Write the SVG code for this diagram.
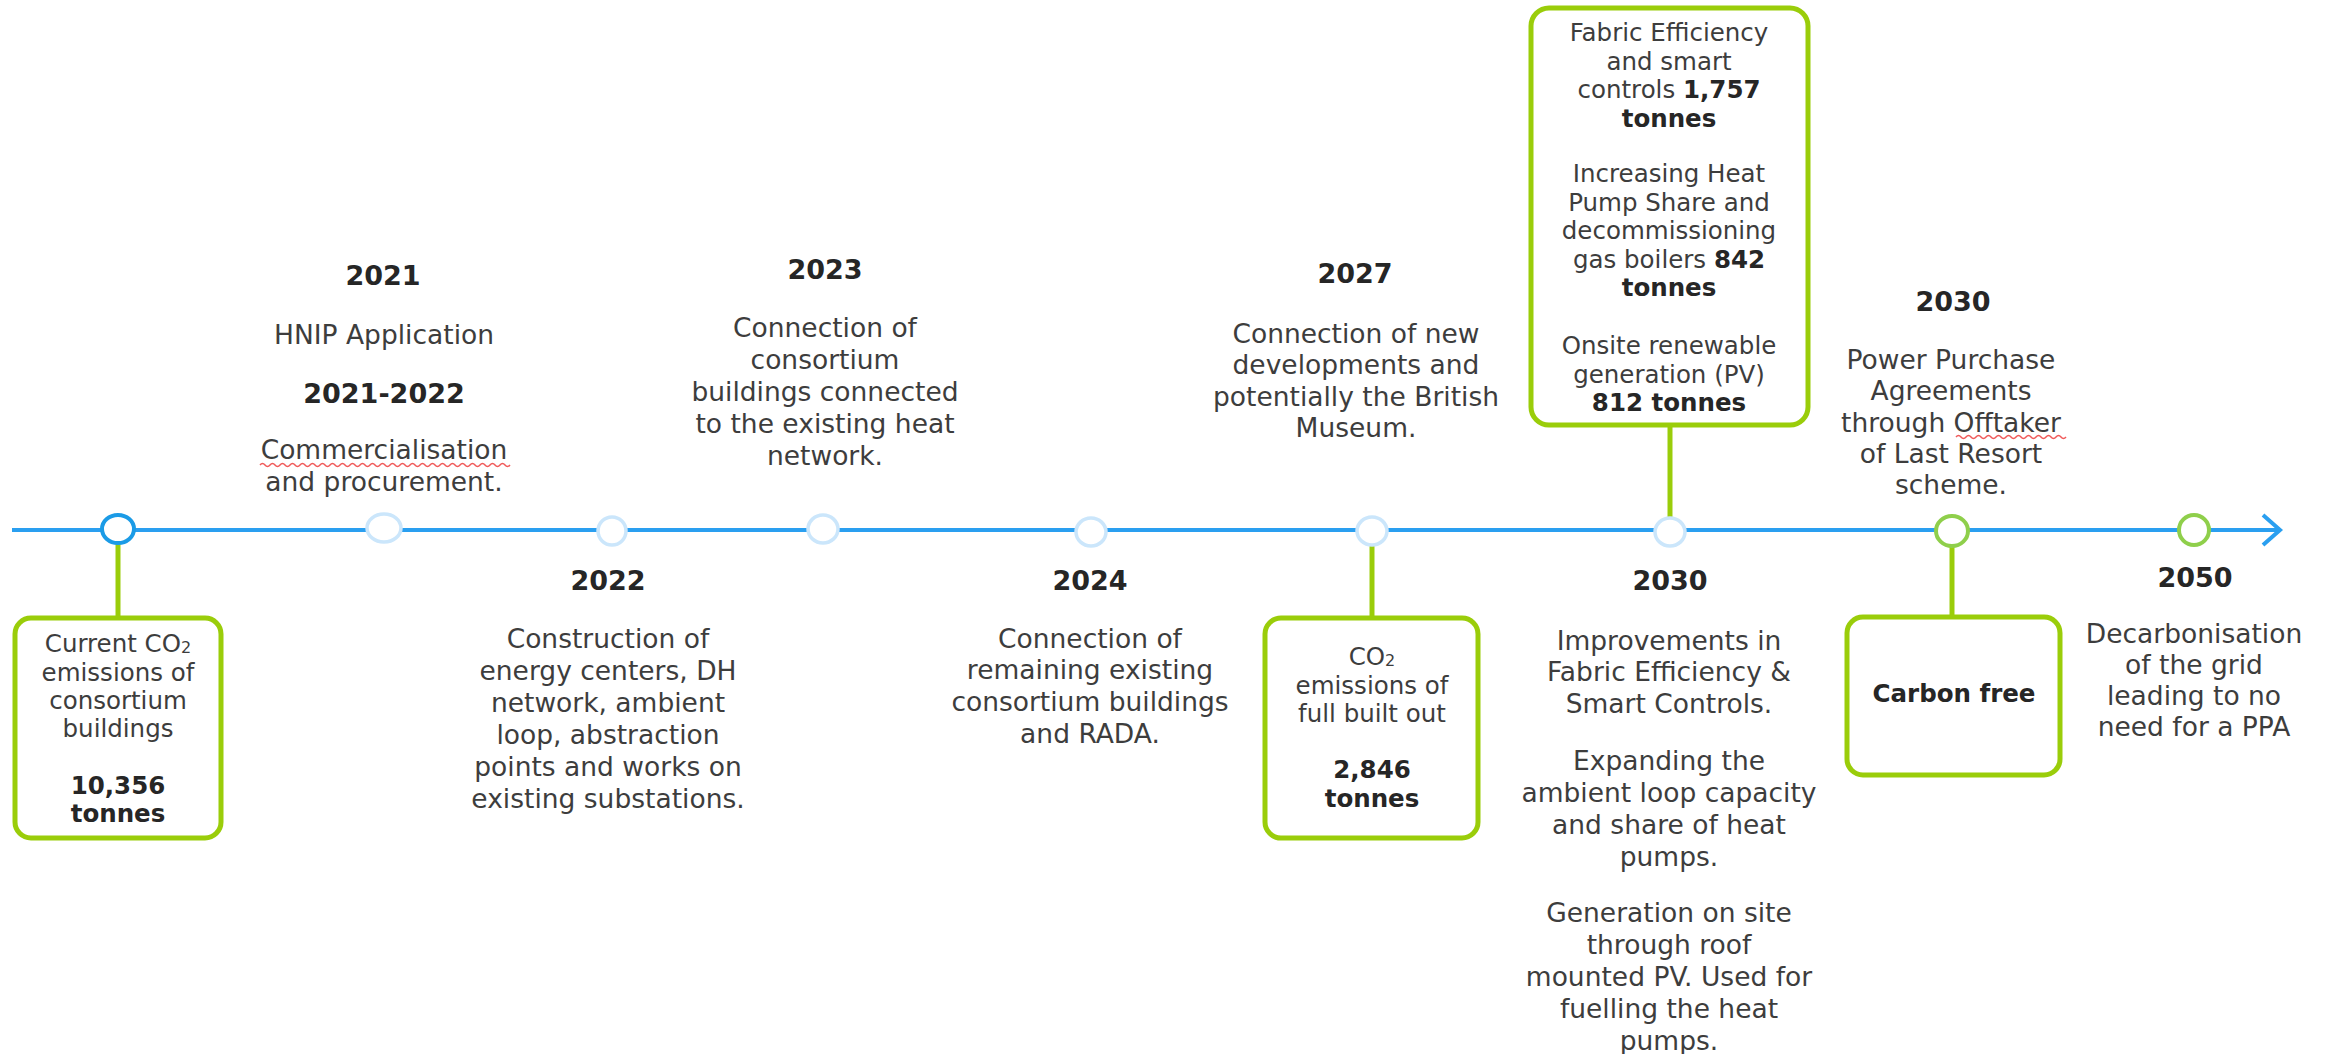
<svg xmlns="http://www.w3.org/2000/svg" width="2333" height="1054" viewBox="0 0 2333 1054">
<defs>
<style>
text{font-family:"DejaVu Sans",Verdana,sans-serif;fill:#3d3d3d;text-anchor:middle}
.t{font-size:26.5px}
.y{font-size:27px;font-weight:bold;fill:#262626}
.b{font-size:24.5px}
.bb{font-weight:bold;fill:#262626}
.box{fill:#fff;stroke:#9acd0a;stroke-width:5}
.stem{stroke:#9acd0a;stroke-width:5;fill:none}
.dot{fill:#fff;stroke:#cbe6fb;stroke-width:3.5}
.dotb{fill:#fff;stroke:#1b9be6;stroke-width:4}
.dotg{fill:#fff;stroke:#8fcf4b;stroke-width:4}
.sq{fill:none;stroke:#f05a5a;stroke-width:1.5}
</style>
<marker id="arr" markerWidth="24" markerHeight="36" refX="20" refY="18" orient="auto" markerUnits="userSpaceOnUse">
<polyline points="3,3 20,18 3,33" fill="none" stroke="#2a9ff0" stroke-width="4"/>
</marker>
</defs>
<rect width="2333" height="1054" fill="#fff"/>
<g id="connectors">
<line x1="12" y1="530" x2="2280" y2="530" stroke="#2a9ff0" stroke-width="4" marker-end="url(#arr)"/>
<line class="stem" x1="118" y1="543" x2="118" y2="617"/>
<line class="stem" x1="1372" y1="545" x2="1372" y2="617"/>
<line class="stem" x1="1952" y1="545" x2="1952" y2="616"/>
<line class="stem" x1="1670" y1="425" x2="1670" y2="517"/>
</g>
<g id="markers">
<ellipse class="dotb" cx="118" cy="529" rx="16" ry="14"/>
<ellipse class="dot" cx="384" cy="528" rx="17" ry="14"/>
<ellipse class="dot" cx="612" cy="531" rx="14" ry="14"/>
<ellipse class="dot" cx="823" cy="529" rx="15" ry="14"/>
<ellipse class="dot" cx="1091" cy="532" rx="15" ry="14"/>
<ellipse class="dot" cx="1372" cy="531" rx="15" ry="14"/>
<ellipse class="dot" cx="1670" cy="532" rx="15" ry="14"/>
<ellipse class="dotg" cx="1952" cy="531" rx="16" ry="15"/>
<ellipse class="dotg" cx="2194" cy="530" rx="15" ry="15"/>
</g>
<g id="node-current">
<rect class="box" x="15" y="618" width="206" height="220" rx="16"/>
<text class="b" x="118" y="652">Current CO<tspan font-size="16" dy="1">2</tspan></text>
<text class="b" x="118" y="681">emissions of</text>
<text class="b" x="118" y="709">consortium</text>
<text class="b" x="118" y="737">buildings</text>
<text class="b bb" x="118" y="794">10,356</text>
<text class="b bb" x="118" y="822">tonnes</text>
</g>
<g id="node-2021">
<text class="y" x="383" y="285">2021</text>
<text class="t" x="384" y="344">HNIP Application</text>
<text class="y" x="384" y="403">2021-2022</text>
<text class="t" x="384" y="459">Commercialisation</text>
<path class="sq" d="M260 465 q2.5 -3 5 0 t5 0 t5 0 t5 0 t5 0 t5 0 t5 0 t5 0 t5 0 t5 0 t5 0 t5 0 t5 0 t5 0 t5 0 t5 0 t5 0 t5 0 t5 0 t5 0 t5 0 t5 0 t5 0 t5 0 t5 0 t5 0 t5 0 t5 0 t5 0 t5 0 t5 0 t5 0 t5 0 t5 0 t5 0 t5 0 t5 0 t5 0 t5 0 t5 0 t5 0 t5 0 t5 0 t5 0 t5 0 t5 0 t5 0 t5 0 t5 0 t5 0"/>
<text class="t" x="384" y="491">and procurement.</text>
</g>
<g id="node-2022">
<text class="y" x="608" y="590">2022</text>
<text class="t" x="608" y="647.5">Construction of</text>
<text class="t" x="608" y="679.5">energy centers, DH</text>
<text class="t" x="608" y="711.5">network, ambient</text>
<text class="t" x="608" y="743.5">loop, abstraction</text>
<text class="t" x="608" y="775.5">points and works on</text>
<text class="t" x="608" y="807.5">existing substations.</text>
</g>
<g id="node-2023">
<text class="y" x="825" y="279">2023</text>
<text class="t" x="825" y="337">Connection of</text>
<text class="t" x="825" y="369">consortium</text>
<text class="t" x="825" y="401">buildings connected</text>
<text class="t" x="825" y="433">to the existing heat</text>
<text class="t" x="825" y="465">network.</text>
</g>
<g id="node-2024">
<text class="y" x="1090" y="590">2024</text>
<text class="t" x="1090" y="647.5">Connection of</text>
<text class="t" x="1090" y="679">remaining existing</text>
<text class="t" x="1090" y="711">consortium buildings</text>
<text class="t" x="1090" y="743">and RADA.</text>
</g>
<g id="node-2027">
<text class="y" x="1355" y="283">2027</text>
<text class="t" x="1356" y="342.5">Connection of new</text>
<text class="t" x="1356" y="374">developments and</text>
<text class="t" x="1356" y="405.5">potentially the British</text>
<text class="t" x="1356" y="437">Museum.</text>
</g>
<g id="node-full-built-out">
<rect class="box" x="1265" y="618" width="213" height="220" rx="16"/>
<text class="b" x="1372" y="665">CO<tspan font-size="16" dy="1">2</tspan></text>
<text class="b" x="1372" y="693.5">emissions of</text>
<text class="b" x="1372" y="722">full built out</text>
<text class="b bb" x="1372" y="778">2,846</text>
<text class="b bb" x="1372" y="807">tonnes</text>
</g>
<g id="node-2030-savings">
<rect class="box" x="1531" y="8" width="277" height="417" rx="18"/>
<text class="b" x="1669" y="41">Fabric Efficiency</text>
<text class="b" x="1669" y="69.5">and smart</text>
<text class="b" x="1669" y="98">controls <tspan class="bb">1,757</tspan></text>
<text class="b bb" x="1669" y="126.5">tonnes</text>
<text class="b" x="1669" y="182">Increasing Heat</text>
<text class="b" x="1669" y="210.5">Pump Share and</text>
<text class="b" x="1669" y="239">decommissioning</text>
<text class="b" x="1669" y="267.5">gas boilers <tspan class="bb">842</tspan></text>
<text class="b bb" x="1669" y="296">tonnes</text>
<text class="b" x="1669" y="354">Onsite renewable</text>
<text class="b" x="1669" y="382.5">generation (PV)</text>
<text class="b bb" x="1669" y="411">812 tonnes</text>
</g>
<g id="node-2030">
<text class="y" x="1670" y="590">2030</text>
<text class="t" x="1669" y="649.5">Improvements in</text>
<text class="t" x="1669" y="680.5">Fabric Efficiency &amp;</text>
<text class="t" x="1669" y="712.5">Smart Controls.</text>
<text class="t" x="1669" y="769.5">Expanding the</text>
<text class="t" x="1669" y="801.5">ambient loop capacity</text>
<text class="t" x="1669" y="833.5">and share of heat</text>
<text class="t" x="1669" y="865.5">pumps.</text>
<text class="t" x="1669" y="921.5">Generation on site</text>
<text class="t" x="1669" y="953.5">through roof</text>
<text class="t" x="1669" y="985.5">mounted PV. Used for</text>
<text class="t" x="1669" y="1017.5">fuelling the heat</text>
<text class="t" x="1669" y="1049.5">pumps.</text>
</g>
<g id="node-2030-ppa">
<text class="y" x="1953" y="311">2030</text>
<text class="t" x="1951" y="368.5">Power Purchase</text>
<text class="t" x="1951" y="400">Agreements</text>
<text class="t" x="1951" y="431.5">through Offtaker</text>
<path class="sq" d="M1956 437 q2.5 -3 5 0 t5 0 t5 0 t5 0 t5 0 t5 0 t5 0 t5 0 t5 0 t5 0 t5 0 t5 0 t5 0 t5 0 t5 0 t5 0 t5 0 t5 0 t5 0 t5 0 t5 0 t5 0"/>
<text class="t" x="1951" y="463">of Last Resort</text>
<text class="t" x="1951" y="494">scheme.</text>
</g>
<g id="node-carbon-free">
<rect class="box" x="1847" y="617" width="213" height="158" rx="16"/>
<text class="b bb" x="1954" y="702">Carbon free</text>
</g>
<g id="node-2050">
<text class="y" x="2195" y="587">2050</text>
<text class="t" x="2194" y="642.5">Decarbonisation</text>
<text class="t" x="2194" y="673.5">of the grid</text>
<text class="t" x="2194" y="704.5">leading to no</text>
<text class="t" x="2194" y="735.5">need for a PPA</text>
</g>
</svg>
